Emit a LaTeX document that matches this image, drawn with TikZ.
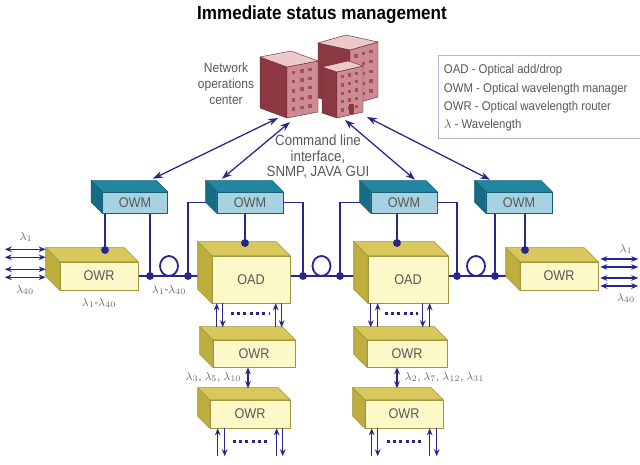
\documentclass[tikz,border=0pt]{standalone}
\usepackage{fontspec}
\setmainfont{Liberation Sans}[FakeStretch=0.9]
\usetikzlibrary{calc,arrows.meta}
\pgfdeclarelayer{background}
\pgfsetlayers{background,main}

\definecolor{navy}{RGB}{38,38,140}
\definecolor{owmfront}{RGB}{166,210,226}
\definecolor{owmtop}{RGB}{34,134,160}
\definecolor{owmside}{RGB}{22,108,132}
\definecolor{owmedge}{RGB}{20,96,118}
\definecolor{owrfront}{RGB}{252,248,200}
\definecolor{owrtop}{RGB}{216,200,92}
\definecolor{owrside}{RGB}{190,174,62}
\definecolor{owredge}{RGB}{160,148,60}
\definecolor{boxtext}{RGB}{88,88,88}
\definecolor{lamtext}{RGB}{110,110,110}
\definecolor{keyedge}{RGB}{176,184,208}
\definecolor{nocdark}{RGB}{140,56,66}
\definecolor{nocwall}{RGB}{204,140,146}
\definecolor{nocroof}{RGB}{236,202,202}
\definecolor{nocwin}{RGB}{160,82,92}
\definecolor{nocedge}{RGB}{100,36,46}

\newcommand\boxfont{\fontsize{10}{12}\selectfont}
\newcommand\lamfont{\fontsize{8.5}{10}\selectfont}

% solid box: [colour set:depth](name)(centre)(width:height){label}
\def\solidbox[#1:#2](#3)(#4)(#5:#6)#7{%
	\node[#1box, minimum width=#5*0.025cm, minimum height=#6*0.025cm] (#3) at (#4) {#7};
	\filldraw[#1box top] (#3.north west) -- ++(-#2,-#2) -- ($(#3.north east)+(-#2,-#2)$) -- (#3.north east) -- cycle;
	\filldraw[#1box side] (#3.north west) -- ++(-#2,-#2) -- ($(#3.south west)+(-#2,-#2)$) -- (#3.south west) -- cycle;
	\coordinate (#3-back) at ($(#3.south west)+(-#2,-#2)$);
}
% tower: (front foot)(left run)(right run){height}
\def\tower(#1)(#2)(#3)#4{%
	\coordinate (tw) at (#1);
	\filldraw[nocdark, draw=nocedge, line width=0.3pt] (tw) -- ++(#2) -- ++(0,-#4) -- ($(tw)+(0,-#4)$) -- cycle;
	\filldraw[fill=nocwall, draw=nocedge, line width=0.3pt] (tw) -- ++(#3) -- ++(0,-#4) -- ($(tw)+(0,-#4)$) -- cycle;
	\filldraw[fill=nocroof, draw=nocedge, line width=0.3pt] ($(tw)+(0,-#4)$) -- ++(#2) -- ++(#3) -- ($(tw)+(#3)+(0,-#4)$) -- cycle;
	\foreach \wu in {0.15,0.42,0.69}
		\foreach \wv in {0.12,0.3,0.48,0.66,0.84}
			\fill[nocwin] ($(tw)+\wu*(#3)+(0,-\wv*#4)$) rectangle ++(3.5,-3.5);
}

\begin{document}
\begin{tikzpicture}[x=0.025cm, y=-0.025cm,
	owmbox/.style={draw=owmedge, fill=owmfront, line width=0.4pt, inner sep=0pt, text=boxtext, font=\boxfont},
	owmbox top/.style={draw=owmedge, fill=owmtop, line width=0.4pt},
	owmbox side/.style={draw=owmedge, fill=owmside, line width=0.4pt},
	owrbox/.style={draw=owredge, fill=owrfront, line width=0.4pt, inner sep=0pt, text=boxtext, font=\boxfont},
	owrbox top/.style={draw=owredge, fill=owrtop, line width=0.4pt},
	owrbox side/.style={draw=owredge, fill=owrside, line width=0.4pt},
	fibre/.style={navy, line width=1.3pt},
	link/.style={navy, line width=0.9pt},
	nms/.style={navy, line width=0.9pt, <->, >={Stealth[length=7pt,width=5pt]}},
	wdm/.style={navy, line width=1pt, <->, >={Stealth[length=5pt,width=4pt]}},
	feed/.style={navy, line width=1pt, >={Stealth[length=5pt,width=4pt]}},
	dotrow/.style={navy, line width=2.2pt, dash pattern=on 2.2pt off 2.3pt},
	lam/.style={text=lamtext, font=\lamfont, inner sep=1pt},
	note/.style={text=boxtext, align=center, inner sep=0pt}]
	%%%%% START %%%%%

	\useasboundingbox (0,0) rectangle (640,465);

	\node[font=\bfseries\fontsize{13.5}{16}\selectfont] (title) at (322,15) {Immediate status management};

	% key
	\node[draw=keyedge, line width=0.5pt, minimum width=207*0.025cm, minimum height=83*0.025cm] (key) at (541.5,96.5) {};
	\foreach \t [count=\i] in {OAD - Optical add/drop, OWM - Optical wavelength manager, OWR - Optical wavelength router, \(\lambda\) - Wavelength}
		\node[text=boxtext, font=\fontsize{9}{10}\selectfont, anchor=west, inner sep=0pt] (key\i) at ($(key.north west)+(6,{16+18.3*(\i-1)})$) {\t};

	% network operations center
	\tower(350,105)(-32,-7)(28,-8){55}
	\tower(287,118)(-27,-10)(31,-6){51}
	\tower(337,118)(-15,-5)(26,-6){46}
	\fill[nocdark] (349,114) rectangle (354,104);
	\coordinate (noc-a) at (278,118);
	\coordinate (noc-b) at (290,122);
	\coordinate (noc-c) at (345,120);
	\coordinate (noc-d) at (367,117);

	\node[note, font=\fontsize{9.5}{11.3}\selectfont] (noctext) at (226,84) {Network\\operations\\center};
	\node[note, font=\fontsize{10.5}{11}\selectfont] (cli) at (318,157) {Command line\\interface,\\SNMP, JAVA GUI};

	% boxes
	\solidbox[owm:11](owm1)(135,202.5)(65:21){OWM}
	\solidbox[owm:11](owm2)(250,202.5)(66:21){OWM}
	\solidbox[owm:11](owm3)(404,202.5)(66:21){OWM}
	\solidbox[owm:11](owm4)(519,202.5)(66:21){OWM}

	\solidbox[owr:14](owr1)(99,276)(78:28){OWR}
	\solidbox[owr:14](oad1)(251,279.5)(78:47){OAD}
	\solidbox[owr:14](oad2)(408,279.5)(80:47){OAD}
	\solidbox[owr:14](owr2)(559,276)(78:28){OWR}

	\solidbox[owr:13](owra)(254,353.5)(82:27){OWR}
	\solidbox[owr:12](owrb)(250,414)(80:28){OWR}
	\solidbox[owr:13](owrc)(407,353.5)(80:27){OWR}
	\solidbox[owr:12](owrd)(404,414)(78:28){OWR}

	% junctions
	\coordinate (jA) at (150,276);
	\coordinate (jB) at (188,276);
	\coordinate (jC) at (303,276);
	\coordinate (jD) at (340,276);
	\coordinate (jE) at (457,276);
	\coordinate (jF) at (495,276);
	\coordinate (tA) at (105,250);
	\coordinate (tB) at (245,243);
	\coordinate (tC) at (397,243);
	\coordinate (tD) at (525,250);

	\begin{pgfonlayer}{background}
		\fill[white] (0,0) rectangle (640,465);
		\draw[fibre] (owr1.east) -- (owr1.east -| oad1-back);
		\draw[fibre] (owr1.east -| oad1.east) -- (owr1.east -| oad2-back);
		\draw[fibre] (owr1.east -| oad2.east) -- (owr1.east -| owr2-back);
		\draw[fibre] ($(jA)!.5!(jB)+(0,-10)$) ellipse [x radius=6.4pt, y radius=7.1pt];
		\draw[fibre] ($(jC)!.5!(jD)+(0,-10)$) ellipse [x radius=6.4pt, y radius=7.1pt];
		\draw[fibre] ($(jE)!.5!(jF)+(0,-10)$) ellipse [x radius=6.4pt, y radius=7.1pt];

		\draw[link] (owm1.south -| tA) -- (tA);
		\draw[link] (owm1.south -| jA) -- (jA);
		\draw[link] (owm2.west) -| (jB);
		\draw[link] (owm2.south -| tB) -- (tB);
		\draw[link] (owm2.east) -| (jC);
		\draw[link] (owm3.west) -| (jD);
		\draw[link] (owm3.south -| tC) -- (tC);
		\draw[link] (owm3.east) -| (jE);
		\draw[link] (owm4.south -| jF) -- (jF);
		\draw[link] (owm4.south -| tD) -- (tD);
	\end{pgfonlayer}

	\foreach \j in {jA,jB,jC,jD,jE,jF,tA,tB,tC,tD}
		\fill[navy] (\j) circle (2.8pt);

	% management links
	\draw[nms] ($(owm1.north)+(18,-13)$) -- (noc-a);
	\draw[nms] ($(owm2.north)+(-28,-13)$) -- (noc-b);
	\draw[nms] ($(owm3.north)+(11,-12)$) -- (noc-c);
	\draw[nms] ($(owm4.north)+(-29,-12)$) -- (noc-d);

	% wavelengths in and out
	\foreach \dy in {-27,-19,-7,1}
		\draw[wdm] ($(owr1-back)+(-41,\dy)$) -- ($(owr1-back)+(0,\dy)$);
	\foreach \dy in {-17,-9,2,10}
		\draw[wdm] ($(owr2.east)+(2,\dy)$) -- ($(owr2.east)+(40,\dy)$);
	\node[lam] (inA) at (26,237) {\(\lambda_1\)};
	\node[lam] (inB) at (25,290) {\(\lambda_{40}\)};
	\node[lam] (outA) at (626,249) {\(\lambda_1\)};
	\node[lam] (outB) at (626,298) {\(\lambda_{40}\)};
	\node[lam] (band1) at ($(owr1.south)+(0,13)$) {\(\lambda_1\)-\(\lambda_{40}\)};
	\node[lam] (band2) at ($(jA)!.5!(jB)+(0,14)$) {\(\lambda_1\)-\(\lambda_{40}\)};

	% drops under the add/drops
	\foreach \dx in {5,64}
		\draw[feed,<-] ($(oad1.south west)+(\dx,0)$) -- ($(oad1.south west)+(\dx,24)$);
	\foreach \dx in {11,70}
		\draw[feed,->] ($(oad1.south west)+(\dx,0)$) -- ($(oad1.south west)+(\dx,24)$);
	\draw[dotrow] ($(oad1.south west)+(19,10)$) -- ($(oad1.south west)+(57,10)$);

	\foreach \dx in {3,55}
		\draw[feed,->] ($(oad2.south west)+(\dx,0)$) -- ($(oad2.south west)+(\dx,24)$);
	\foreach \dx in {10,62}
		\draw[feed,<-] ($(oad2.south west)+(\dx,0)$) -- ($(oad2.south west)+(\dx,24)$);
	\draw[dotrow] ($(oad2.south west)+(17,10)$) -- ($(oad2.south west)+(50,10)$);

	\draw[feed,<->] ($(owra.south)+(-6,0)$) -- ($(owra.south)+(-6,21)$);
	\draw[feed,<->] ($(owrc.south)+(-10,0)$) -- ($(owrc.south)+(-10,21)$);
	\node[lam, anchor=east] (chA) at ($(owra.south)+(-11,10)$) {\(\lambda_3\), \(\lambda_5\), \(\lambda_{10}\)};
	\node[lam, anchor=west] (chB) at ($(owrc.south)+(-4,10)$) {\(\lambda_2\), \(\lambda_7\), \(\lambda_{12}\), \(\lambda_{31}\)};

	\foreach \dx in {8,67}
		\draw[feed,<-] ($(owrb.south west)+(\dx,0)$) -- ($(owrb.south west)+(\dx,28)$);
	\foreach \dx in {15,73}
		\draw[feed,->] ($(owrb.south west)+(\dx,0)$) -- ($(owrb.south west)+(\dx,28)$);
	\draw[dotrow] ($(owrb.south west)+(23,13)$) -- ($(owrb.south west)+(60,13)$);

	\foreach \dx in {7,65}
		\draw[feed,<-] ($(owrd.south west)+(\dx,0)$) -- ($(owrd.south west)+(\dx,28)$);
	\foreach \dx in {13,72}
		\draw[feed,->] ($(owrd.south west)+(\dx,0)$) -- ($(owrd.south west)+(\dx,28)$);
	\draw[dotrow] ($(owrd.south west)+(22,13)$) -- ($(owrd.south west)+(58,13)$);

	%%%%% END %%%%%
\end{tikzpicture}
\end{document}
